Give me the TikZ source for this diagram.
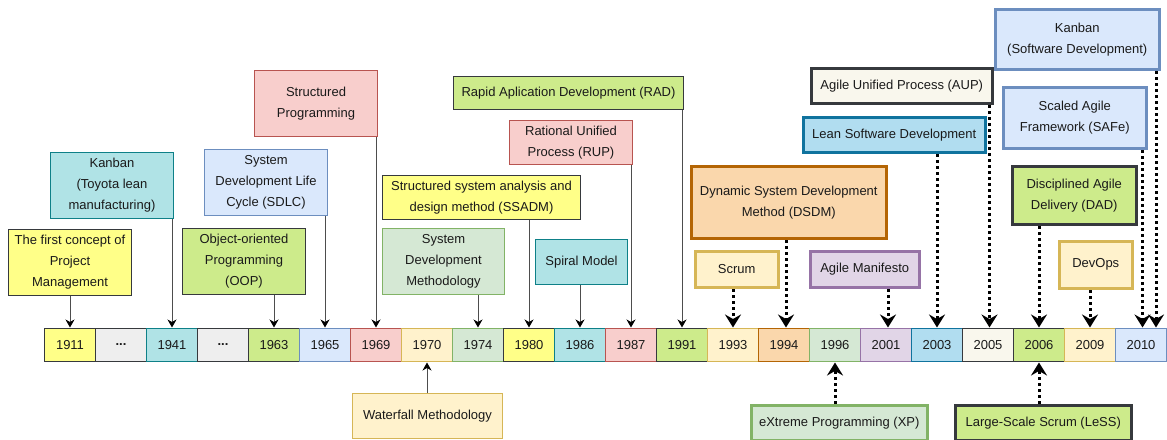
\documentclass[tikz,border=0pt]{standalone}
\usepackage{fontspec}
\setmainfont{Liberation Sans}
\usetikzlibrary{arrows.meta}
\definecolor{yelF}{HTML}{FFFF88}
\definecolor{darkS}{HTML}{36393D}
\definecolor{greyF}{HTML}{EEEEEE}
\definecolor{tealF}{HTML}{B0E3E6}
\definecolor{tealS}{HTML}{0E8088}
\definecolor{limeF}{HTML}{CDEB8B}
\definecolor{blueF}{HTML}{DAE8FC}
\definecolor{blueS}{HTML}{6C8EBF}
\definecolor{redF}{HTML}{F8CECC}
\definecolor{redS}{HTML}{B85450}
\definecolor{creamF}{HTML}{FFF2CC}
\definecolor{creamS}{HTML}{D6B656}
\definecolor{grnF}{HTML}{D5E8D4}
\definecolor{grnS}{HTML}{82B366}
\definecolor{oraF}{HTML}{FAD7AC}
\definecolor{oraS}{HTML}{B46504}
\definecolor{purF}{HTML}{E1D5E7}
\definecolor{purS}{HTML}{9673A6}
\definecolor{skyF}{HTML}{B1DDF0}
\definecolor{skyS}{HTML}{10739E}
\definecolor{offF}{HTML}{F9F7ED}
\definecolor{txt}{HTML}{1A1A1A}
\definecolor{lineC}{HTML}{4D4D4D}
\begin{document}
\begin{tikzpicture}[x=1pt,y=-1pt,
  every node/.style={font=\fontsize{13}{21}\selectfont, text=txt},
  cell/.style={draw, line width=1pt, minimum width=51pt, minimum height=33pt, anchor=north west, inner sep=0pt},
  box/.style={draw, line width=1pt, anchor=north west, align=center, inner sep=1pt},
  tbox/.style={draw, line width=3.5pt, anchor=north west, align=center, inner sep=1pt},
  thinarrow/.style={draw=lineC, line width=1pt, -{Stealth[length=8pt,width=9pt,inset=2.5pt,color=black]}, shorten >=0.5pt},
  dotarrow/.style={draw=black, line width=3pt, dash pattern=on 3pt off 3pt, -{Stealth[length=13pt,width=16pt,inset=4.5pt]}, shorten >=0.5pt}
]
\useasboundingbox (0,0) rectangle (1167,439);

% timeline cells
\foreach \i/\nm/\lab/\f/\s in {
 0/c1911/1911/yelF/darkS, 1/cA/\textbf{...}/greyF/darkS, 2/c1941/1941/tealF/tealS,
 3/cB/\textbf{...}/greyF/darkS, 4/c1963/1963/limeF/darkS, 5/c1965/1965/blueF/blueS,
 6/c1969/1969/redF/redS, 7/c1970/1970/creamF/creamS, 8/c1974/1974/grnF/grnS,
 9/c1980/1980/yelF/darkS, 10/c1986/1986/tealF/tealS, 11/c1987/1987/redF/redS,
 12/c1991/1991/limeF/darkS, 13/c1993/1993/creamF/creamS, 14/c1994/1994/oraF/oraS,
 15/c1996/1996/grnF/grnS, 16/c2001/2001/purF/purS, 17/c2003/2003/skyF/skyS,
 18/c2005/2005/offF/darkS, 19/c2006/2006/limeF/darkS, 20/c2009/2009/creamF/creamS,
 21/c2010/2010/blueF/blueS}
 \node[cell, fill=\f, draw=\s] (\nm) at ({44+51*\i},328) {\lab};

% thin-border boxes
\node[box, fill=yelF, draw=darkS, minimum width=123pt, minimum height=66pt] (pm) at (8,229) {The first concept of\\Project\\Management};
\node[box, fill=tealF, draw=tealS, minimum width=123pt, minimum height=66pt] (kan1) at (50,152) {Kanban\\(Toyota lean\\manufacturing)};
\node[box, fill=blueF, draw=blueS, minimum width=123pt, minimum height=66pt] (sdlc) at (204,149) {System\\Development Life\\Cycle (SDLC)};
\node[box, fill=limeF, draw=darkS, minimum width=123pt, minimum height=66pt] (oop) at (182,228) {Object-oriented\\Programming\\(OOP)};
\node[box, fill=redF, draw=redS, minimum width=123pt, minimum height=66pt] (sp) at (254,70) {Structured\\Programming};
\node[box, fill=yelF, draw=darkS, minimum width=198pt, minimum height=44pt] (ssadm) at (382,175) {Structured system analysis and\\design method (SSADM)};
\node[box, fill=grnF, draw=grnS, minimum width=122pt, minimum height=66pt] (sdm) at (382,228) {System\\Development\\Methodology};
\node[box, fill=tealF, draw=tealS, minimum width=92pt, minimum height=45pt] (spiral) at (535,239) {Spiral Model};
\node[box, fill=redF, draw=redS, minimum width=123pt, minimum height=44pt] (rup) at (509,120) {Rational Unified\\Process (RUP)};
\node[box, fill=limeF, draw=darkS, minimum width=230pt, minimum height=33pt] (rad) at (453,76) {Rapid Aplication Development (RAD)};
\node[box, fill=creamF, draw=creamS, minimum width=150pt, minimum height=45pt] (wf) at (352,393) {Waterfall Methodology};

% thick-border boxes
\node[tbox, fill=oraF, draw=oraS, minimum width=195pt, minimum height=72pt] (dsdm) at (689.5,164.5) {Dynamic System Development\\Method (DSDM)};
\node[tbox, fill=creamF, draw=creamS, minimum width=83pt, minimum height=36pt] (scrum) at (693.5,249.5) {Scrum};
\node[tbox, fill=purF, draw=purS, minimum width=109pt, minimum height=36pt] (am) at (808.5,249.5) {Agile Manifesto};
\node[tbox, fill=skyF, draw=skyS, minimum width=182pt, minimum height=35pt] (lean) at (801.5,115.5) {Lean Software Development};
\node[tbox, fill=offF, draw=darkS, minimum width=181pt, minimum height=35pt] (aup) at (809.5,66.5) {Agile Unified Process (AUP)};
\node[tbox, fill=blueF, draw=blueS, minimum width=164pt, minimum height=60pt] (kan2) at (993.5,7.5) {Kanban\\(Software Development)};
\node[tbox, fill=blueF, draw=blueS, minimum width=143pt, minimum height=61pt] (safe) at (1001.5,85.5) {Scaled Agile\\Framework (SAFe)};
\node[tbox, fill=limeF, draw=darkS, minimum width=124pt, minimum height=58pt] (dad) at (1010.5,164.5) {Disciplined Agile\\Delivery (DAD)};
\node[tbox, fill=creamF, draw=creamS, minimum width=73pt, minimum height=47pt] (devops) at (1057.5,239.5) {DevOps};
\node[tbox, fill=grnF, draw=grnS, minimum width=176pt, minimum height=35pt] (xp) at (749.5,403.5) {eXtreme Programming (XP)};
\node[tbox, fill=limeF, draw=darkS, minimum width=176pt, minimum height=35pt] (less) at (953.5,403.5) {Large-Scale Scrum (LeSS)};

% thin arrows
\foreach \b/\c in {pm/c1911, kan1/c1941, oop/c1963, sdlc/c1965, sp/c1969, sdm/c1974, ssadm/c1980, spiral/c1986, rup/c1987, rad/c1991}
  \draw[thinarrow] (\c.north |- \b.south) -- (\c.north);
\draw[thinarrow] (c1970.south |- wf.north) -- (c1970.south);

% dotted arrows
\coordinate (k2) at ([xshift=15pt]c2010.north);
\coordinate (sf) at ([xshift=1.5pt]c2010.north);
\coordinate (ds) at ([xshift=2pt]c1994.north);
\coordinate (ag) at ([xshift=2pt]c2001.north);
\coordinate (ap) at ([xshift=1.5pt]c2005.north);
\draw[dotarrow] (c1993.north |- scrum.south) -- (c1993.north);
\draw[dotarrow] (ds |- dsdm.south) -- (ds);
\draw[dotarrow] (ag |- am.south) -- (ag);
\draw[dotarrow] (c2003.north |- lean.south) -- (c2003.north);
\draw[dotarrow] (ap |- aup.south) -- (ap);
\draw[dotarrow] (c2006.north |- dad.south) -- (c2006.north);
\draw[dotarrow] (c2009.north |- devops.south) -- (c2009.north);
\draw[dotarrow] (sf |- safe.south) -- (sf);
\draw[dotarrow] (k2 |- kan2.south) -- (k2);
\draw[dotarrow] (c1996.south |- xp.north) -- (c1996.south);
\draw[dotarrow] (c2006.south |- less.north) -- (c2006.south);
\end{tikzpicture}
\end{document}
